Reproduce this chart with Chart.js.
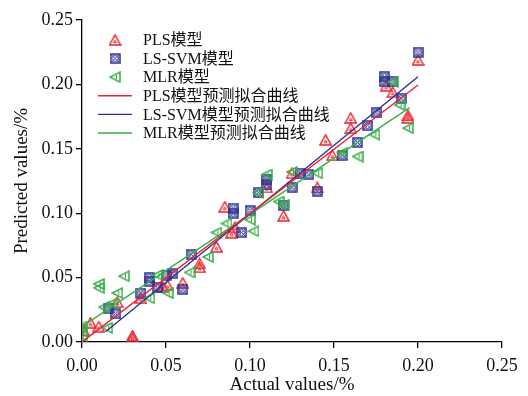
<!DOCTYPE html>
<html><head><meta charset="utf-8">
<script src="https://cdn.jsdelivr.net/npm/chart.js@4/dist/chart.umd.min.js"></script>
<style>html,body{margin:0;padding:0;background:#fff}#wrap{width:528px;height:396px}</style>
</head><body><div id="wrap"><canvas id="c" width="528" height="396"></canvas></div>
<script>
// ---- data ----
const seriesNames = ['PLS模型', 'LS-SVM模型', 'MLR模型'];
const fitNames = ['PLS模型预测拟合曲线', 'LS-SVM模型预测拟合曲线', 'MLR模型预测拟合曲线'];
const xTicks = [0, 0.05, 0.10, 0.15, 0.20, 0.25];
const yTicks = [0, 0.05, 0.10, 0.15, 0.20, 0.25];

const plsX = [0.001,0.005,0.010,0.030,0.030,0.021,0.035,0.048,0.051,0.060,0.070,0.070,0.080,0.085,0.089,0.091,0.110,0.120,0.125,0.140,0.145,0.149,0.160,0.160,0.181,0.185,0.194,0.194,0.200];
const plsY = [0.009,0.015,0.012,0.005,0.003,0.031,0.034,0.043,0.044,0.046,0.061,0.058,0.074,0.105,0.085,0.089,0.120,0.098,0.131,0.120,0.157,0.145,0.174,0.166,0.199,0.194,0.176,0.174,0.219];

const lsX = [0.016,0.020,0.035,0.040,0.040,0.045,0.050,0.054,0.060,0.065,0.090,0.090,0.095,0.100,0.105,0.110,0.110,0.120,0.125,0.130,0.135,0.140,0.155,0.164,0.170,0.175,0.180,0.180,0.185,0.190,0.200];
const lsY = [0.026,0.022,0.038,0.050,0.047,0.042,0.052,0.053,0.041,0.068,0.104,0.100,0.085,0.102,0.116,0.126,0.122,0.106,0.120,0.131,0.130,0.117,0.145,0.155,0.168,0.178,0.206,0.202,0.202,0.189,0.225];

const mlrX = [0.000,0.000,0.000,0.010,0.010,0.013,0.015,0.021,0.018,0.025,0.040,0.045,0.051,0.064,0.075,0.080,0.086,0.100,0.102,0.105,0.110,0.117,0.120,0.125,0.140,0.155,0.164,0.174,0.185,0.189,0.194];
const mlrY = [0.005,0.008,0.012,0.045,0.042,0.027,0.011,0.038,0.030,0.051,0.034,0.052,0.038,0.054,0.066,0.085,0.092,0.095,0.086,0.116,0.130,0.109,0.106,0.132,0.131,0.147,0.144,0.161,0.202,0.184,0.166];

const plsFitX = [0.000, 0.200]; const plsFitY = [0.000, 0.1995];
const lsFitX  = [0.014, 0.200]; const lsFitY  = [0.008, 0.206];
const mlrFitX = [0.000, 0.195]; const mlrFitY = [0.012, 0.182];

// ---- styles ----
const RED = '#e8262d', BLUE = '#2b3090', GREEN = '#3aae48';
const FONT = "'Liberation Serif', 'Times New Roman', 'Noto Sans CJK SC', serif";

function mk(w, h, draw) { const c = document.createElement('canvas'); c.width = w; c.height = h; draw(c.getContext('2d')); return c; }
const triImg = mk(13, 12, g => {
  g.strokeStyle = RED; g.lineWidth = 1.5;
  g.beginPath(); g.moveTo(6.5, 1); g.lineTo(1, 11); g.lineTo(12, 11); g.closePath(); g.stroke();
  g.lineWidth = 1; g.beginPath(); g.moveTo(6.5, 6); g.lineTo(5, 8.7); g.lineTo(8, 8.7); g.closePath(); g.stroke();
});
const sqImg = mk(11, 11, g => {
  g.strokeStyle = BLUE; g.lineWidth = 1.5;
  g.strokeRect(1, 1, 9, 9);
  g.lineWidth = 1;
  g.beginPath(); g.arc(5.5, 5.5, 3, 0, Math.PI * 2); g.stroke();
  g.beginPath(); g.moveTo(2, 2); g.lineTo(9, 9); g.moveTo(9, 2); g.lineTo(2, 9); g.stroke();
});
const ltriImg = mk(12, 12, g => {
  g.strokeStyle = GREEN; g.lineWidth = 1.5;
  g.beginPath(); g.moveTo(1, 6); g.lineTo(11, 1); g.lineTo(11, 11); g.closePath(); g.stroke();
  g.lineWidth = 1; g.beginPath(); g.moveTo(7.5, 4); g.lineTo(7.5, 8); g.stroke();
});

const pts = (xs, ys) => xs.map((x, i) => ({ x: x, y: ys[i] }));

const datasets = [
  { label: seriesNames[0], data: pts(plsX, plsY), pointStyle: triImg, showLine: false, order: 3, borderColor: RED },
  { label: seriesNames[1], data: pts(lsX, lsY), pointStyle: sqImg, showLine: false, order: 2, borderColor: BLUE },
  { label: seriesNames[2], data: pts(mlrX, mlrY), pointStyle: ltriImg, showLine: false, order: 1, borderColor: GREEN },
  { label: fitNames[0], type: 'line', data: pts(plsFitX, plsFitY), borderColor: RED, borderWidth: 1.4, pointRadius: 0, order: 0, fill: false },
  { label: fitNames[1], type: 'line', data: pts(lsFitX, lsFitY), borderColor: BLUE, borderWidth: 1.4, pointRadius: 0, order: 0, fill: false },
  { label: fitNames[2], type: 'line', data: pts(mlrFitX, mlrFitY), borderColor: GREEN, borderWidth: 1.4, pointRadius: 0, order: 0, fill: false },
];

const legendPlugin = {
  id: 'customLegend',
  afterDraw(chart) {
    const g = chart.ctx;
    g.save();
    g.font = '16px ' + FONT; g.fillStyle = '#111'; g.textBaseline = 'middle'; g.textAlign = 'left';
    chart.data.datasets.forEach((ds, i) => {
      const y = 40 + i * 18.6;
      if (ds.type === 'line') {
        g.strokeStyle = ds.borderColor; g.lineWidth = 1.4;
        g.beginPath(); g.moveTo(98, y); g.lineTo(132, y); g.stroke();
      } else {
        const im = ds.pointStyle; g.drawImage(im, 115 - im.width / 2, y - im.height / 2);
      }
      g.fillText(ds.label, 143, y + 1);
    });
    g.restore();
  }
};

new Chart(document.getElementById('c'), {
  type: 'scatter',
  data: { datasets },
  plugins: [legendPlugin],
  options: {
    responsive: false, animation: false, devicePixelRatio: 1,
    layout: { padding: { top: 20, right: 26, left: 0, bottom: 0 } },
    plugins: { legend: { display: false }, tooltip: { enabled: false } },
    scales: {
      x: {
        type: 'linear', min: 0, max: 0.25,
        afterFit: s => { s.height = 54; },
        afterBuildTicks: s => { s.ticks = xTicks.map(v => ({ value: v })); },
        border: { display: true, color: '#000', width: 1.3 },
        grid: { drawOnChartArea: false, drawTicks: true, tickLength: 6, color: '#000', lineWidth: 1.3 },
        ticks: { color: '#111', padding: 7, maxRotation: 0, font: { family: FONT, size: 18 }, callback: v => v.toFixed(2) },
        title: { display: true, text: 'Actual values/%', color: '#111', padding: 0, font: { family: FONT, size: 19 } }
      },
      y: {
        type: 'linear', min: 0, max: 0.25,
        afterFit: s => { s.width = 82; },
        afterBuildTicks: s => { s.ticks = yTicks.map(v => ({ value: v })); },
        border: { display: true, color: '#000', width: 1.3 },
        grid: { drawOnChartArea: false, drawTicks: true, tickLength: 6, color: '#000', lineWidth: 1.3 },
        ticks: { color: '#111', padding: 3, font: { family: FONT, size: 18 }, callback: v => v.toFixed(2) },
        title: { display: true, text: 'Predicted values/%', color: '#111', padding: { top: 11, bottom: 0 }, font: { family: FONT, size: 19 } }
      }
    }
  }
});
</script></body></html>
